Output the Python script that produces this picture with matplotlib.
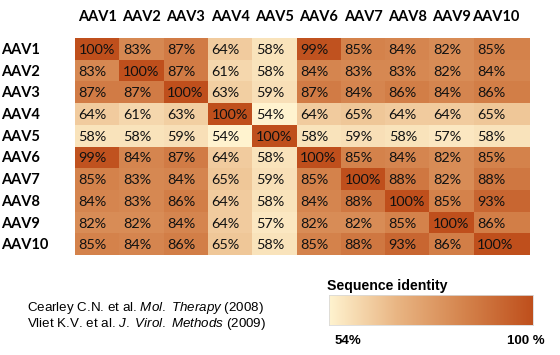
import numpy as np
import matplotlib
matplotlib.use("Agg")
import matplotlib.pyplot as plt
from matplotlib.colors import LinearSegmentedColormap
from matplotlib.transforms import blended_transform_factory

# Datos de identidad de secuencia (%)
serotypes = ["AAV1", "AAV2", "AAV3", "AAV4", "AAV5", "AAV6", "AAV7", "AAV8", "AAV9", "AAV10"]
identity = [
    [100, 83, 87, 64, 58, 99, 85, 84, 82, 85],
    [83, 100, 87, 61, 58, 84, 83, 83, 82, 84],
    [87, 87, 100, 63, 59, 87, 84, 86, 84, 86],
    [64, 61, 63, 100, 54, 64, 65, 64, 64, 65],
    [58, 58, 59, 54, 100, 58, 59, 58, 57, 58],
    [99, 84, 87, 64, 58, 100, 85, 84, 82, 85],
    [85, 83, 84, 65, 59, 85, 100, 88, 82, 88],
    [84, 83, 86, 64, 58, 84, 88, 100, 85, 93],
    [82, 82, 84, 64, 57, 82, 82, 85, 100, 86],
    [85, 84, 86, 65, 58, 85, 88, 93, 86, 100],
]
vmin, vmax = 54, 100
citations = ["Cearley C.N. et al. $\\it{Mol.\\ Therapy}$ (2008)",
             "Vliet K.V. et al. $\\it{J.\\ Virol.\\ Methods}$ (2009)"]

plt.rcParams["mathtext.fontset"] = "custom"
plt.rcParams["mathtext.rm"] = "Liberation Sans"
plt.rcParams["mathtext.it"] = "Liberation Sans:italic"

cmap = LinearSegmentedColormap.from_list("seq", ["#FFF3CF", "#E9B583", "#D4834C", "#BF4F1C"])

W, H = 560, 355
fig = plt.figure(figsize=(W / 100, H / 100), dpi=100)

def box(x0, y0, x1, y1):
    return [x0 / W, 1 - y1 / H, (x1 - x0) / W, (y1 - y0) / H]

# la ultima columna es mas ancha
col_w = np.array([1.0] * 9 + [1.27])
xedges = np.concatenate([[0], np.cumsum(col_w)])
yedges = np.arange(11)

data = np.array(identity)
ax = fig.add_axes(box(75, 38, 530, 255))
ax.pcolormesh(xedges, yedges, data, cmap=cmap, vmin=vmin, vmax=vmax)
ax.set_xlim(0, xedges[-1])
ax.set_ylim(10, 0)
ax.axis("off")

for i in range(10):
    for j in range(10):
        ax.text(xedges[j] + 0.08, i + 0.55, f"{identity[i][j]}%", ha="left", va="center",
                fontsize=10.4, family="Lato", color="#111111")

for j, name in enumerate(serotypes):
    ax.text(xedges[j] + 0.5, -0.98, name, ha="center", va="center", fontsize=10.5,
            family="Lato", fontweight="bold")

# etiquetas de filas pegadas al borde izquierdo de la figura
trans = blended_transform_factory(fig.transFigure, ax.transData)
for i, name in enumerate(serotypes):
    ax.text(1 / W, i + 0.55, name, ha="left", va="center", transform=trans,
            fontsize=10.5, family="Lato", fontweight="bold")

# Barra de color
cax = fig.add_axes(box(329, 295, 533, 325))
grad = np.linspace(vmin, vmax, 256).reshape(1, -1)
cax.imshow(grad, cmap=cmap, vmin=vmin, vmax=vmax, aspect="auto")
cax.set_xticks([])
cax.set_yticks([])
for s in cax.spines.values():
    s.set_color("#D9D9D9")
    s.set_linewidth(0.6)

fig.text(327 / W, 1 - 286 / H, "Sequence identity", ha="left", va="center",
         fontsize=10.2, family="Liberation Sans", fontweight="bold")
fig.text(335 / W, 1 - 341 / H, "54%", ha="left", va="center",
         fontsize=9.5, family="Liberation Sans", fontweight="bold")
fig.text(545 / W, 1 - 341 / H, "100 %", ha="right", va="center",
         fontsize=9.5, family="Liberation Sans", fontweight="bold")

for k, c in enumerate(citations):
    fig.text(27 / W, 1 - (308 + 15.5 * k) / H, c, ha="left", va="center",
             fontsize=9.6, family="Liberation Sans")

fig.savefig("out.png", dpi=100)
